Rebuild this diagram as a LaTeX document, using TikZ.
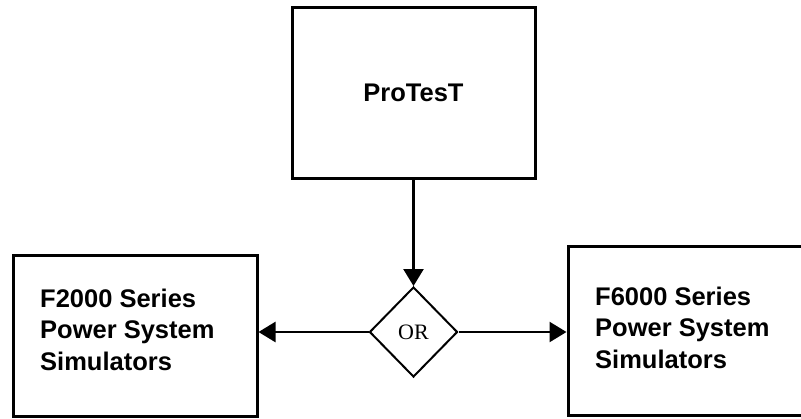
\documentclass[tikz,border=0pt]{standalone}
\usepackage{fontspec}
\newfontfamily\lblfont{Liberation Sans}
\newfontfamily\orfont{Liberation Serif}
\usetikzlibrary{arrows.meta,shapes.geometric}
\tikzset{
  boxnode/.style={draw=black, line width=3pt, rectangle, inner sep=0pt},
  lbl/.style={font=\lblfont\bfseries\fontsize{25.5}{31.5}\selectfont, align=left, inner sep=0pt},
  ornode/.style={draw=black, line width=2pt, diamond, minimum width=88pt, minimum height=90pt, inner sep=0pt, font=\orfont\fontsize{22}{26}\selectfont},
  conn/.style={line width=2.5pt, -{Triangle[length=17pt,width=20pt]}}
}
\begin{document}
\begin{tikzpicture}[x=1pt,y=-1pt]
\useasboundingbox (0,0) rectangle (801,418);
\clip (0,0) rectangle (801,418);
\node[boxnode, minimum width=243pt, minimum height=171pt, font=\lblfont\bfseries\fontsize{25.5}{30}\selectfont] (top) at (413.5,92.5) {ProTesT};
\node[boxnode, minimum width=244pt, minimum height=161pt] (left) at (135,335.5) {};
\node[boxnode, minimum width=250pt, minimum height=169pt] (right) at (693,330.5) {};
\node[ornode] (or) at (413.5,332) {OR};
\node[lbl, anchor=base west] (ltext) at (40,370) {F2000 Series\\Power System\\Simulators};
\node[lbl, anchor=base west] (rtext) at (595,368) {F6000 Series\\Power System\\Simulators};
\draw[conn] (top.south) -- (or.north);
\draw[conn] (or.west) -- (or.west -| left.east);
\draw[conn] (or.east) -- (or.east -| right.west);
\end{tikzpicture}
\end{document}
